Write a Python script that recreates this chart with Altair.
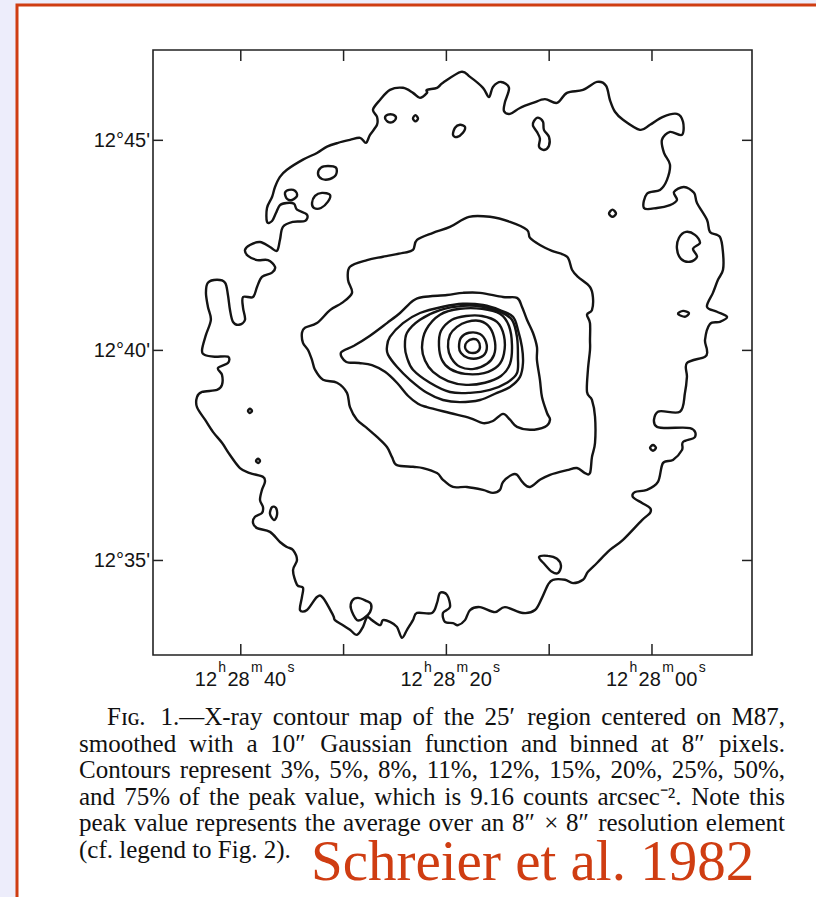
import altair as alt
import pandas as pd

# X-ray contour map of M87 (Einstein IPC), B1950 coordinates.
# ra  : seconds of right ascension past 12h28m (negative = 12h27m..)
# dec : arcminutes of declination past +12 deg
RA_LEFT, RA_RIGHT = 48.54, -9.73
DEC_LOW, DEC_HIGH = 32.75, 47.15

# ---- contour vertices (ra, dec) -------------------------------------------
LEVEL_03 = [
    (18.58, 46.63), (17.70, 46.51), (16.44, 46.25), (15.86, 46.03), (15.47, 46.27),
    (14.69, 46.39), (13.91, 46.25), (14.30, 45.91), (14.40, 45.70), (13.81, 45.63),
    (12.84, 45.77), (11.58, 45.89), (10.41, 45.98), (9.24, 45.89), (8.27, 46.13),
    (6.71, 46.20), (5.35, 46.39), (4.47, 46.30), (4.09, 45.96), (3.60, 45.68),
    (2.82, 45.49), (1.17, 45.25), (0.19, 45.37), (-1.07, 45.56), (-2.43, 45.63),
    (-3.02, 45.44), (-2.92, 45.13), (-1.75, 45.20), (-0.97, 45.01), (-1.17, 44.70),
    (-1.75, 44.42), (-1.46, 44.06), (-0.78, 43.82), (0.49, 43.73), (0.78, 43.39),
    (-0.49, 43.39), (-1.75, 43.46), (-2.43, 43.58), (-2.14, 43.77), (-3.11, 43.89),
    (-4.09, 43.75), (-4.38, 43.51), (-5.35, 43.11), (-5.64, 42.82), (-6.61, 42.70),
    (-6.91, 42.32), (-6.91, 41.92), (-6.42, 41.68), (-5.93, 41.37), (-5.35, 41.04),
    (-6.32, 40.92), (-7.30, 40.80), (-6.61, 40.68), (-5.64, 40.63), (-5.16, 40.25),
    (-5.35, 40.01), (-5.16, 39.85), (-3.40, 39.70), (-3.40, 39.37), (-3.21, 38.99),
    (-2.72, 38.54), (-0.58, 38.54), (-0.49, 38.18), (-3.70, 38.15), (-4.18, 37.94),
    (-3.02, 37.82), (-2.92, 37.63), (-2.04, 37.39), (-1.07, 37.32), (-0.58, 36.87),
    (0.49, 36.68), (1.65, 36.63), (1.85, 36.51), (0.97, 36.37), (0.19, 36.25),
    (0.19, 36.13), (0.97, 35.96), (2.82, 35.49), (4.09, 35.25), (5.35, 34.94),
    (6.23, 34.73), (6.71, 34.54), (7.68, 34.46), (8.46, 34.54), (9.63, 34.54),
    (10.12, 34.42), (10.70, 34.11), (11.38, 33.82), (12.55, 33.75), (14.30, 33.89),
    (15.27, 33.77), (16.73, 33.89), (17.70, 33.82), (18.19, 33.58), (18.87, 33.46),
    (19.36, 33.51), (20.14, 33.54), (20.33, 33.75), (19.65, 33.89), (19.94, 34.18),
    (20.62, 34.23), (20.91, 33.99), (21.40, 33.75), (22.86, 33.75), (23.25, 33.58),
    (23.83, 33.35), (24.32, 33.16), (24.81, 33.42), (25.49, 33.54), (26.17, 33.58),
    (26.46, 33.46), (27.24, 33.58), (27.72, 33.65), (28.11, 33.42), (28.70, 33.23),
    (29.38, 33.35), (30.06, 33.46), (30.84, 33.58), (31.03, 33.70), (32.00, 34.11),
    (32.59, 34.13), (33.56, 33.82), (34.24, 33.82), (34.05, 34.13), (33.95, 34.35),
    (34.53, 34.42), (34.92, 34.77), (34.53, 35.01), (34.92, 35.25), (35.51, 35.32),
    (36.19, 35.44), (37.16, 35.68), (38.42, 35.77), (38.81, 35.89), (38.62, 36.04),
    (37.94, 36.13), (37.84, 36.27), (38.13, 36.44), (37.94, 36.68), (37.65, 36.87),
    (37.84, 36.99), (39.11, 37.08), (40.08, 37.20), (41.05, 37.51), (41.83, 37.80),
    (42.71, 38.06), (43.48, 38.35), (44.26, 38.65), (44.26, 38.89), (43.77, 39.01),
    (42.31, 39.06), (41.83, 39.18), (41.83, 39.42), (42.22, 39.58), (41.25, 39.70),
    (41.25, 39.85), (42.52, 39.85), (43.49, 39.89), (43.77, 40.01), (43.39, 40.37),
    (42.91, 40.73), (43.20, 41.04), (43.39, 41.37), (43.20, 41.61), (42.31, 41.68),
    (41.53, 41.61), (41.25, 41.32), (41.05, 40.96), (40.76, 40.68), (40.17, 40.61),
    (39.59, 40.73), (39.78, 41.01), (39.78, 41.27), (38.81, 41.27), (38.42, 41.51),
    (37.94, 41.75), (36.96, 41.85), (36.67, 41.99), (37.35, 42.15), (38.42, 42.15),
    (39.30, 42.25), (39.59, 42.39), (39.11, 42.51), (38.13, 42.58), (37.16, 42.46),
    (36.48, 42.37), (36.19, 42.63), (35.90, 42.94), (34.92, 43.06), (33.76, 43.08),
    (33.56, 43.23), (34.53, 43.35), (34.82, 43.49), (35.51, 43.51), (36.19, 43.46),
    (36.58, 43.27), (36.96, 43.08), (37.45, 43.06), (37.45, 43.39), (36.96, 43.65),
    (36.67, 43.89), (36.19, 44.13), (35.51, 44.30), (33.95, 44.54), (32.59, 44.70),
    (31.61, 44.85), (30.54, 44.94), (29.38, 45.01), (28.40, 45.06), (27.82, 44.94),
    (27.43, 45.13), (26.75, 45.37), (26.75, 45.56), (27.14, 45.73), (26.46, 45.96),
    (25.49, 46.20), (24.22, 46.25), (23.25, 46.13), (22.57, 46.01), (21.89, 46.13),
    (21.89, 46.20), (20.91, 46.25), (20.33, 46.37),
]

# small isolated 3% islands
ISLANDS_03 = [
    [(25.97, 45.54), (25.68, 45.61), (25.20, 45.61), (24.90, 45.54), (25.20, 45.44), (25.68, 45.44)],
    [(23.25, 45.52), (23.01, 45.60), (22.76, 45.52), (23.01, 45.45)],
    [(19.36, 45.13), (19.16, 45.30), (18.68, 45.37), (18.19, 45.32), (18.39, 45.18), (18.97, 45.08)],
    [(11.48, 45.46), (11.09, 45.54), (10.60, 45.44), (10.51, 45.25), (10.02, 45.08), (10.02, 44.87),
     (10.51, 44.77), (10.99, 44.85), (10.90, 45.04), (11.19, 45.20), (11.58, 45.35)],
    [(32.49, 44.20), (32.20, 44.35), (31.52, 44.39), (30.74, 44.35), (30.74, 44.18), (31.32, 44.08), (32.10, 44.08)],
    [(33.07, 43.51), (32.78, 43.68), (32.10, 43.75), (31.32, 43.70), (31.52, 43.54), (32.20, 43.39), (32.88, 43.39)],
    [(35.70, 43.75), (35.31, 43.82), (34.73, 43.80), (34.53, 43.68), (35.02, 43.58), (35.51, 43.61)],
    [(4.18, 43.26), (3.84, 43.35), (3.50, 43.26), (3.84, 43.18)],
    [(-2.63, 42.68), (-3.31, 42.82), (-4.18, 42.75), (-4.67, 42.56), (-3.99, 42.42), (-4.38, 42.23),
     (-3.70, 42.11), (-2.82, 42.18), (-2.43, 42.42)],
    [(-2.53, 40.87), (-3.02, 40.94), (-3.60, 40.89), (-3.21, 40.80)],
    [(39.30, 38.56), (39.11, 38.61), (38.91, 38.56), (39.11, 38.51)],
    [(38.52, 37.37), (38.32, 37.42), (38.13, 37.37), (38.32, 37.32)],
    [(37.16, 36.11), (36.96, 36.27), (36.58, 36.25), (36.48, 36.08), (36.77, 35.96)],
    [(29.28, 33.85), (29.18, 34.04), (28.60, 34.11), (27.82, 34.04), (27.33, 33.96), (27.43, 33.77),
     (28.01, 33.63), (28.70, 33.58)],
    [(0.19, 37.68), (-0.10, 37.75), (-0.39, 37.68), (-0.10, 37.61)],
    [(10.99, 35.08), (10.12, 35.11), (9.24, 35.04), (8.85, 34.87), (9.14, 34.70), (9.73, 34.73), (10.41, 34.90)],
]

LEVEL_05 = [
    (17.80, 43.18), (15.76, 43.18), (13.81, 43.06), (12.16, 42.87), (11.87, 42.68), (10.90, 42.51),
    (9.73, 42.37), (8.27, 42.23), (7.78, 41.92), (7.20, 41.75), (6.03, 41.51), (5.74, 41.25),
    (5.84, 40.96), (6.32, 40.85), (6.03, 40.65), (6.03, 40.25), (6.03, 40.01), (6.23, 39.54),
    (6.32, 39.01), (5.84, 38.82), (5.54, 38.42), (5.54, 37.80), (5.84, 37.46), (6.03, 37.08),
    (6.52, 37.08), (7.30, 37.20), (8.27, 37.15), (9.92, 37.04), (10.90, 36.92), (11.87, 36.75),
    (12.55, 36.85), (13.13, 37.04), (13.62, 37.04), (14.49, 36.87), (14.79, 36.68), (15.47, 36.61),
    (16.44, 36.68), (18.00, 36.75), (19.36, 36.75), (20.33, 36.92), (20.91, 37.08), (22.28, 37.20),
    (23.25, 37.23), (24.81, 37.27), (25.29, 37.46), (25.78, 37.70), (26.75, 37.94), (27.72, 38.15),
    (28.70, 38.35), (29.38, 38.65), (29.67, 38.99), (30.64, 39.23), (32.00, 39.30), (32.78, 39.54),
    (33.07, 39.77), (33.46, 40.01), (33.95, 40.18), (34.05, 40.42), (33.76, 40.54), (32.59, 40.65),
    (31.32, 40.96), (30.16, 41.13), (29.18, 41.37), (29.57, 41.68), (29.38, 41.99), (27.72, 42.15),
    (26.17, 42.23), (24.22, 42.32), (23.25, 42.39), (22.86, 42.63), (21.30, 42.80), (19.65, 42.94),
]

LEVEL_08 = [
    (30.25, 39.95), (28.99, 40.11), (27.43, 40.35), (25.78, 40.65), (24.51, 40.89), (23.25, 41.18),
    (22.28, 41.27), (19.94, 41.32), (18.39, 41.37), (16.73, 41.37), (14.49, 41.27), (13.13, 41.25),
    (12.65, 41.04), (12.16, 40.73), (11.58, 40.42), (11.19, 40.08), (11.19, 39.77), (10.90, 39.30),
    (10.70, 38.89), (10.21, 38.51), (9.92, 38.35), (10.41, 38.18), (11.87, 38.11), (13.13, 38.18),
    (13.81, 38.35), (14.49, 38.49), (15.47, 38.32), (16.44, 38.27), (17.70, 38.39), (19.65, 38.51),
    (21.89, 38.65), (22.76, 38.73), (23.74, 38.92), (24.81, 39.23), (25.97, 39.49), (27.24, 39.65),
    (28.50, 39.70), (29.77, 39.73),
]

LEVEL_11 = [
    (25.78, 40.08), (25.49, 40.32), (24.22, 40.65), (22.57, 40.89), (20.33, 41.04), (18.39, 41.11),
    (16.44, 41.08), (14.79, 40.96), (13.52, 40.80), (13.04, 40.49), (12.65, 40.08), (12.55, 39.70),
    (12.84, 39.37), (13.81, 39.13), (15.08, 38.99), (16.73, 38.82), (18.68, 38.77), (20.33, 38.82),
    (21.89, 38.99), (23.54, 39.30), (24.81, 39.61), (25.68, 39.90),
]

LEVEL_12 = [
    (24.03, 40.08), (23.83, 40.42), (22.57, 40.73), (20.62, 40.96), (18.39, 41.06), (16.44, 41.04),
    (14.79, 40.92), (13.62, 40.73), (13.13, 40.32), (13.04, 39.85), (13.13, 39.46), (14.11, 39.23),
    (15.76, 39.06), (17.70, 38.99), (19.65, 39.01), (21.60, 39.23), (23.25, 39.54), (23.83, 39.83),
]

LEVEL_15 = [
    (22.37, 40.08), (21.98, 40.49), (20.62, 40.85), (18.68, 40.99), (16.54, 40.99), (14.79, 40.87),
    (13.91, 40.58), (13.62, 40.13), (13.81, 39.68), (14.69, 39.39), (16.25, 39.23), (18.09, 39.18),
    (19.84, 39.27), (21.30, 39.49), (22.08, 39.76),
]

LEVEL_20 = [
    (20.72, 40.11), (20.53, 40.46), (19.46, 40.73), (18.09, 40.82), (16.54, 40.82), (15.08, 40.68),
    (14.40, 40.35), (14.40, 39.92), (14.98, 39.63), (16.34, 39.46), (18.19, 39.44), (19.65, 39.56),
    (20.43, 39.77),
]

LEVEL_25 = [
    (19.84, 40.08), (19.65, 40.37), (18.97, 40.56), (18.00, 40.68), (16.73, 40.70), (15.76, 40.54),
    (15.27, 40.20), (15.37, 39.89), (16.05, 39.68), (17.32, 39.56), (18.68, 39.61), (19.55, 39.83),
]

LEVEL_50 = [
    (18.77, 40.08), (18.58, 40.30), (17.80, 40.42), (16.73, 40.39), (16.15, 40.20), (16.15, 39.96),
    (16.83, 39.82), (17.90, 39.82), (18.58, 39.94),
]

LEVEL_75 = [
    (18.19, 40.08), (18.00, 40.20), (17.41, 40.27), (16.93, 40.23), (16.73, 40.08), (17.02, 39.96),
    (17.61, 39.94), (18.00, 39.99),
]

# ---- axis ticks and labels -------------------------------------------------
RA_TICKS = [40, 30, 20, 10, 0]
RA_LABELED = [40, 20, 0]
# each RA label: hours, "h", minutes, "m", seconds, "s" (units set as superscripts)
RA_LABEL_PARTS = [
    ["12", "h", "28", "m", "40", "s"],
    ["12", "h", "28", "m", "20", "s"],
    ["12", "h", "28", "m", "00", "s"],
]
DEC_TICKS = [45, 40, 35]
DEC_LABELS = ["12\u00b045'", "12\u00b040'", "12\u00b035'"]

CAPTION = [
    "F\u026a\u0262. 1.\u2014X-ray contour map of the 25\u2032 region centered on M87,",
    "smoothed with a 10\u2033 Gaussian function and binned at 8\u2033 pixels.",
    "Contours represent 3%, 5%, 8%, 11%, 12%, 15%, 20%, 25%, 50%,",
    "and 75% of the peak value, which is 9.16 counts arcsec\u207b\u00b2. Note this",
    "peak value represents the average over an 8\u2033 \u00d7 8\u2033 resolution element",
    "(cf. legend to Fig. 2).",
]
CREDIT = "Schreier et al. 1982"

# ---- layout ------------------------------------------------------------------
W, H = 599, 605
PAD = {"left": 153, "top": 50, "right": 64, "bottom": 242}
INK = "#141414"
ACCENT = "#cf3d12"
LABEL_FONT = "Liberation Sans, Arial, sans-serif"
SERIF = "Liberation Serif, Times New Roman, serif"

xs = alt.Scale(domain=[RA_LEFT, RA_RIGHT], nice=False, zero=False)
ys = alt.Scale(domain=[DEC_LOW, DEC_HIGH], nice=False, zero=False)

rows = []
shapes = [("3%", LEVEL_03)] + [("3%", isl) for isl in ISLANDS_03] + [
    ("5%", LEVEL_05), ("8%", LEVEL_08), ("11%", LEVEL_11), ("12%", LEVEL_12),
    ("15%", LEVEL_15), ("20%", LEVEL_20), ("25%", LEVEL_25), ("50%", LEVEL_50), ("75%", LEVEL_75),
]
for cid, (level, pts) in enumerate(shapes):
    for seq, (ra, dec) in enumerate(pts):
        rows.append({"cid": cid, "level": level, "seq": seq, "ra": ra, "dec": dec})
contour_df = pd.DataFrame(rows)

one = pd.DataFrame({"k": [0]})

panel = alt.Chart(one).mark_rect(fill="white", stroke=ACCENT, strokeWidth=3).encode(
    x=alt.value(-136), x2=alt.value(720), y=alt.value(-45), y2=alt.value(900)
)

contours = alt.Chart(contour_df).mark_line(
    interpolate="cardinal-closed", color=INK, strokeWidth=2.4
).encode(
    x=alt.X("ra:Q", scale=xs, axis=None),
    y=alt.Y("dec:Q", scale=ys, axis=None),
    detail="cid:N",
    order="seq:Q",
)

frame = alt.Chart(one).mark_rect(fillOpacity=0, stroke="#222", strokeWidth=1.6).encode(
    x=alt.value(0), x2=alt.value(W), y=alt.value(0), y2=alt.value(H)
)

ra_df = pd.DataFrame({"ra": RA_TICKS})
dec_df = pd.DataFrame({"dec": DEC_TICKS})
tick_style = dict(color="#222", strokeWidth=1.5)
ticks_bottom = alt.Chart(ra_df).mark_rule(**tick_style).encode(
    x=alt.X("ra:Q", scale=xs), y=alt.value(H), y2=alt.value(H - 11))
ticks_top = alt.Chart(ra_df).mark_rule(**tick_style).encode(
    x=alt.X("ra:Q", scale=xs), y=alt.value(0), y2=alt.value(11))
ticks_left = alt.Chart(dec_df).mark_rule(**tick_style).encode(
    y=alt.Y("dec:Q", scale=ys), x=alt.value(0), x2=alt.value(10))
ticks_right = alt.Chart(dec_df).mark_rule(**tick_style).encode(
    y=alt.Y("dec:Q", scale=ys), x=alt.value(W), x2=alt.value(W - 10))

# RA labels: one text layer per label part, digits on the baseline and the
# h / m / s unit letters raised as superscripts
DIGIT_SIZE, SUP_SIZE = 20, 14
ARIAL_ADV = {"h": 556, "m": 833, "s": 500}
part_layers = []
pos = -46.0
for p in range(6):
    is_sup = p % 2 == 1
    part_df = pd.DataFrame({"ra": RA_LABELED, "t": [parts[p] for parts in RA_LABEL_PARTS]})
    part_layers.append(
        alt.Chart(part_df).mark_text(
            font=LABEL_FONT, fontSize=SUP_SIZE if is_sup else DIGIT_SIZE,
            align="left", baseline="alphabetic", dx=pos, color=INK,
        ).encode(x=alt.X("ra:Q", scale=xs), y=alt.value(622 if is_sup else 636), text="t:N")
    )
    if is_sup:
        pos += ARIAL_ADV[RA_LABEL_PARTS[0][p]] * SUP_SIZE / 1000.0 + 1.3
    else:
        pos += 2 * 556 * DIGIT_SIZE / 1000.0 + 1.3

dec_lab = alt.Chart(pd.DataFrame({"dec": DEC_TICKS, "label": DEC_LABELS})).mark_text(
    font=LABEL_FONT, fontSize=20, align="right", baseline="middle", dy=1, color=INK
).encode(y=alt.Y("dec:Q", scale=ys), x=alt.value(-3), text="label:N")

# justified caption: word positions from Times advance widths (per 1000 em)
ADV = dict(zip("abcdefghijklmnopqrstuvwxyz",
               [444, 500, 444, 500, 444, 333, 500, 500, 278, 278, 500, 278, 778,
                500, 500, 500, 500, 333, 389, 278, 500, 500, 722, 500, 500, 444]))
ADV.update(dict(zip("ABCDEFGHIJKLMNOPQRSTUVWXYZ",
                    [722, 667, 667, 722, 611, 556, 722, 722, 333, 389, 722, 611, 889,
                     722, 722, 556, 722, 667, 556, 611, 722, 722, 944, 722, 722, 611])))
ADV.update({c: 500 for c in "0123456789"})
ADV.update({".": 250, ",": 250, "-": 333, "\u2014": 1000, "(": 333, ")": 333, "%": 833,
            "\u2032": 300, "\u2033": 480, "\u00d7": 564, "\u207b": 340, "\u00b2": 300,
            "\u026a": 360, "\u0262": 560})
CAP_SIZE = 25


def width(word):
    return sum(ADV.get(ch, 500) for ch in word) * CAP_SIZE / 1000.0


cap_rows = []
right_edge = 785 - PAD["left"]
for i, line in enumerate(CAPTION):
    left = (107 if i == 0 else 79) - PAD["left"]
    base = 725 + i * 26.5 - PAD["top"]
    words = line.split(" ")
    widths = [width(w) for w in words]
    last = i == len(CAPTION) - 1
    gap = CAP_SIZE * 0.25 if last else (right_edge - left - sum(widths)) / (len(words) - 1)
    x = left
    for w, wd in zip(words, widths):
        cap_rows.append({"cx": x, "cy": base, "word": w})
        x += wd + gap
cap_df = pd.DataFrame(cap_rows)

caption = alt.Chart(cap_df).mark_text(
    font=SERIF, fontSize=CAP_SIZE, align="left", baseline="alphabetic", color="#111"
).encode(
    x=alt.X("cx:Q", scale=None, axis=None),
    y=alt.Y("cy:Q", scale=None, axis=None),
    text="word:N",
)

credit = alt.Chart(one).mark_text(
    text=CREDIT, font=SERIF, fontSize=57, align="left", baseline="alphabetic", color=ACCENT
).encode(x=alt.value(158), y=alt.value(830))

chart = alt.layer(
    panel, contours, frame, ticks_bottom, ticks_top, ticks_left, ticks_right,
    *part_layers, dec_lab, caption, credit,
).properties(
    width=W, height=H, padding=PAD, autosize=alt.AutoSizeParams(type="none"),
).configure(background="#ededfb").configure_view(stroke=None)

chart.save("out.html", embed_options={"renderer": "svg", "actions": False})
